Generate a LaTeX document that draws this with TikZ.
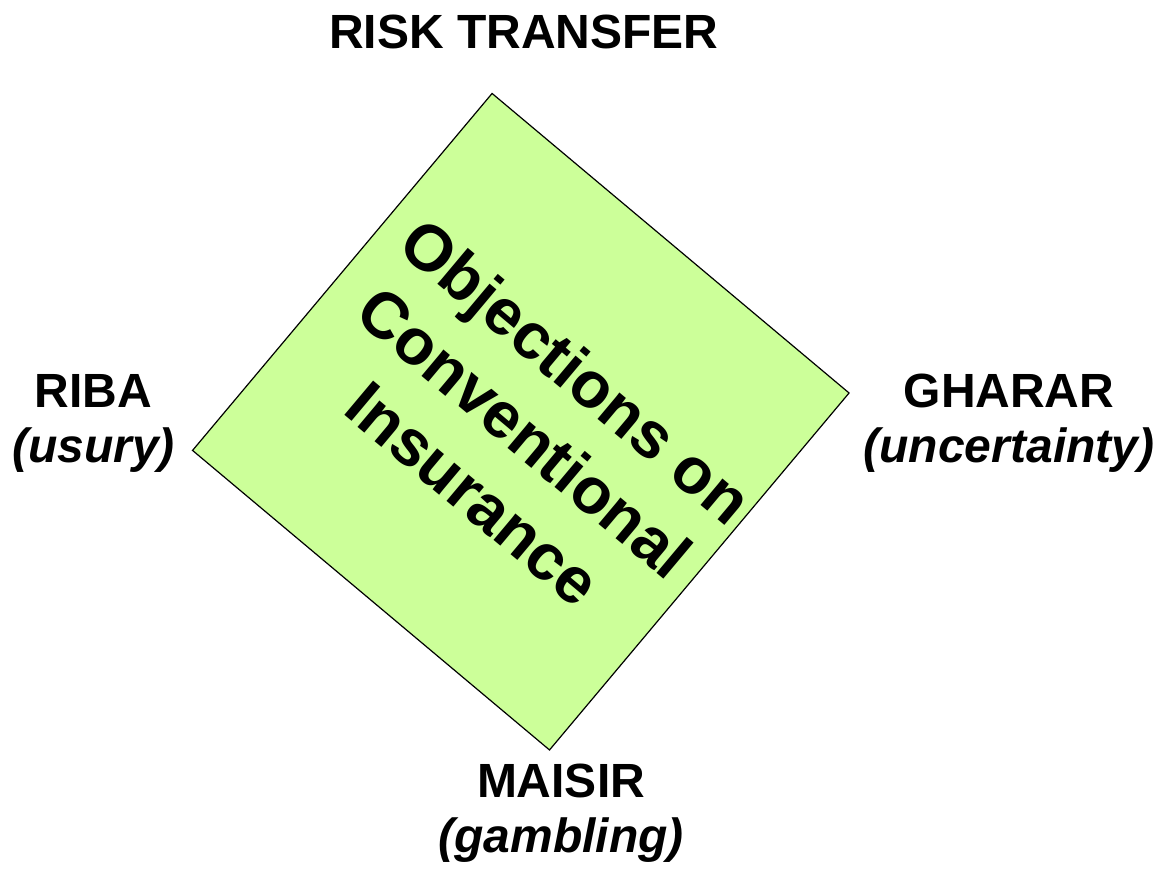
\documentclass[tikz,border=0pt]{standalone}
\usepackage{fontspec}
\setmainfont{Liberation Sans}
\definecolor{panelgreen}{HTML}{CCFF99}
\begin{document}
\begin{tikzpicture}[x=1pt,y=-1pt,
  corner/.style={font=\fontsize{48}{55}\selectfont\bfseries, align=center, inner sep=0pt, anchor=base},
  core/.style={draw=black, fill=panelgreen, line width=1.2pt, rotate=-40,
    minimum width=466pt, minimum height=466pt, inner sep=0pt},
  title/.style={font=\fontsize{65}{80}\selectfont\bfseries, align=center, rotate=-40, inner sep=0pt}]
\useasboundingbox (0,0) rectangle (1154,868);
% tilted square with its caption
\node[core] (square) at (520.8,421.7) {};
\node[title] (caption) at (525,432) {Objections on\\Conventional\\Insurance};
% the four surrounding concepts (anchored at the baseline of the lower line)
\node[corner] (risk) at (524,48.7) {RISK TRANSFER};
\node[corner] (riba) at (93.5,462) {RIBA\\\textit{(usury)}};
\node[corner] (gharar) at (1009,462) {GHARAR\\\textit{(uncertainty)}};
\node[corner] (maisir) at (561,852) {MAISIR\\\textit{(gambling)}};
\end{tikzpicture}
\end{document}
